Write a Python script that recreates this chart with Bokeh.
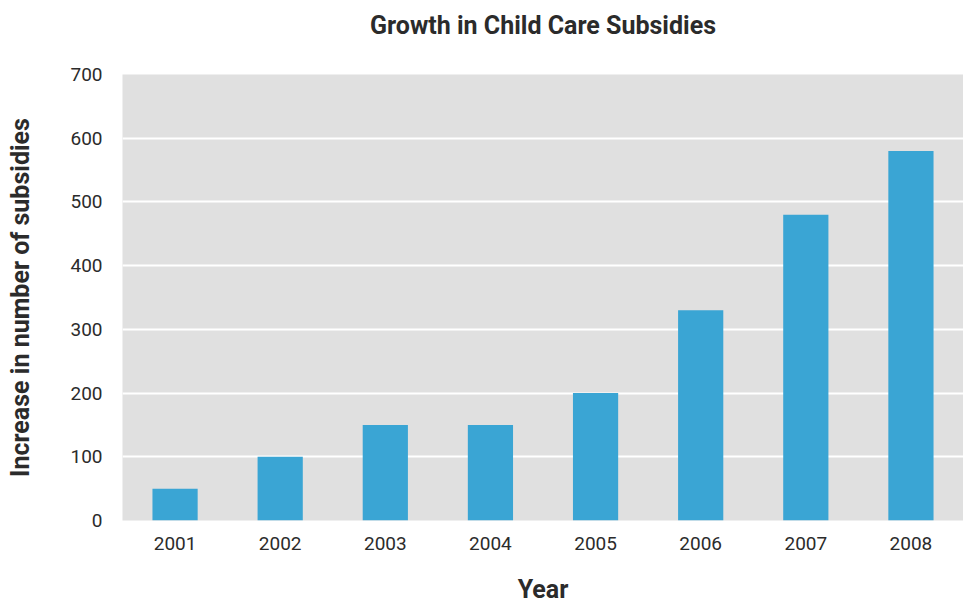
from bokeh.plotting import figure
from bokeh.models import ColumnDataSource, FactorRange, Title
from bokeh.embed import file_html
from bokeh.resources import INLINE

years = ["2001", "2002", "2003", "2004", "2005", "2006", "2007", "2008"]
increase = [50, 100, 150, 150, 200, 330, 480, 580]
y_ticks = [0, 100, 200, 300, 400, 500, 600, 700]
title_text = "Growth in Child Care Subsidies"

FONT = "Roboto"
TXT = "#2b2b2b"

src = ColumnDataSource(dict(year=years, value=increase))

p = figure(width=963, height=606, x_range=FactorRange(*years, range_padding=0),
           y_range=(0, 700), output_backend="svg", toolbar_location=None,
           min_border_left=122, min_border_right=0, min_border_top=73, min_border_bottom=86)

p.vbar(x="year", top="value", width=0.43, source=src, color="#3aa5d4", line_color=None)

p.background_fill_color = "#e0e0e0"
p.border_fill_color = "white"
p.outline_line_color = None

# spacer below the title, then the title itself further up
p.add_layout(Title(text=" ", text_font_size="1px", standoff=23), "above")
p.add_layout(Title(text=title_text, align="center", text_font=FONT, text_font_size="25px",
                   text_font_style="bold", text_color=TXT, standoff=17), "above")

p.xgrid.grid_line_color = None
p.ygrid.grid_line_color = "white"
p.ygrid.grid_line_width = 2
p.yaxis.ticker = y_ticks

for ax in (p.xaxis, p.yaxis):
    ax.axis_line_color = None
    ax.major_tick_line_color = None
    ax.minor_tick_line_color = None
    ax.major_label_text_font = FONT
    ax.major_label_text_font_size = "19px"
    ax.major_label_text_color = TXT
    ax.axis_label_text_font = FONT
    ax.axis_label_text_font_size = "25px"
    ax.axis_label_text_font_style = "bold"
    ax.axis_label_text_color = TXT

p.xaxis.axis_label = "Year"
p.yaxis.axis_label = "Increase in number of subsidies"
p.xaxis.major_label_standoff = 10
p.xaxis.axis_label_standoff = 22
p.yaxis.major_label_standoff = 14
p.yaxis.axis_label_standoff = 32

open("out.html", "w").write(file_html(p, INLINE))
